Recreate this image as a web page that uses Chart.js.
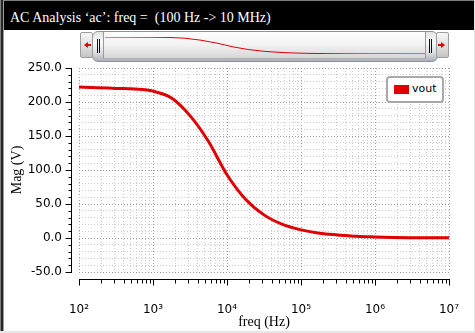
<!DOCTYPE html>
<html lang="en">
<head>
    <meta charset="UTF-8">
    <title>AC Analysis</title>
    <script src="https://cdn.jsdelivr.net/npm/chart.js"></script>
    <style>
        html, body {
            margin: 0;
            padding: 0;
            width: 475px;
            height: 333px;
            overflow: hidden;
            background: #ffffff;
            position: relative;
        }
        .frame-left {
            position: absolute; left: 0; top: 0; width: 4px; height: 333px;
            background: linear-gradient(to right, #808080 0, #808080 1px, #262626 1px, #262626 3px, #9a9a9a 3px);
        }
        .frame-right {
            position: absolute; right: 0; top: 0; width: 1px; height: 333px; background: #e2e2e2;
        }
        .frame-bottom {
            position: absolute; left: 0; bottom: 0; width: 475px; height: 2px; background: #e6e6e6;
        }
        #titlebar {
            position: absolute; left: 4px; top: 0; width: 470px; height: 30px;
            background: #000; border-top: 1px solid #7f7f7f; box-sizing: border-box;
            color: #fff; font-family: "Liberation Serif", serif; font-size: 14px;
            line-height: 14px; padding: 10px 0 0 6px; white-space: nowrap;
        }
        #mainChart {
            position: absolute; left: 0; top: 0;
        }
        /* scroll bar above the plot */
        .sb-btn {
            position: absolute; top: 32px; width: 11px; height: 24px;
            border: 1px solid #9c9c9c; border-radius: 2px;
            background: linear-gradient(to bottom, #f6f6f6, #dcdcdc 60%, #c4c4c4);
        }
        .sb-btn.left { left: 80px; }
        .sb-btn.right { left: 436px; }
        .arrow {
            position: absolute; top: 9px; width: 0; height: 0;
            border-top: 3px solid transparent; border-bottom: 3px solid transparent;
        }
        .sb-btn.left .arrow { left: 3px; border-right: 4px solid #e00000; }
        .sb-btn.right .arrow { left: 4px; border-left: 4px solid #e00000; }
        .arrow-stem { position: absolute; top: 11px; width: 3px; height: 2px; background: #e00000; }
        .sb-btn.left .arrow-stem { left: 7px; }
        .sb-btn.right .arrow-stem { left: 1px; }
        .sb-thumb {
            position: absolute; left: 92px; top: 31px; width: 344px; height: 29px;
            border: 1px solid #8c939c; border-radius: 6px;
            background: linear-gradient(to bottom, #e4e4e4, #fafafa 35%, #d8dade 75%, #a9b0ba);
        }
        .sb-panel {
            position: absolute; left: 103px; top: 32px; width: 321px; height: 26px;
            border-left: 1px solid #9a9a9a; border-right: 1px solid #9a9a9a;
            border-bottom: 1px solid #b0b0b0;
            background: linear-gradient(to bottom, #ffffff, #f2f2f2 50%, #d6d6d6);
        }
        .grip {
            position: absolute; top: 39px; width: 1px; height: 14px; background: #111;
        }
        #thumbChart {
            position: absolute; left: 105px; top: 35px;
        }
        #legend {
            position: absolute; left: 386px; top: 76px; width: 54px; height: 23px;
            border: 2px solid #a9a9a9; border-radius: 4px; background: #fff;
        }
        #legend .swatch {
            position: absolute; left: 6px; top: 7px; width: 15px; height: 9px;
        }
        #legend .name {
            position: absolute; left: 24px; top: 3px;
            font-family: "DejaVu Sans", sans-serif; font-size: 11px; line-height: 16px; color: #000;
        }
    </style>
</head>
<body>
    <div class="frame-left"></div>
    <div class="frame-right"></div>
    <div class="frame-bottom"></div>

    <canvas id="mainChart" width="475" height="333"></canvas>

    <div class="sb-thumb"></div>
    <div class="sb-panel"></div>
    <div class="grip" style="left:97px"></div>
    <div class="grip" style="left:99px"></div>
    <div class="grip" style="left:429px"></div>
    <div class="grip" style="left:431px"></div>
    <div class="sb-btn left"><div class="arrow"></div><div class="arrow-stem"></div></div>
    <div class="sb-btn right"><div class="arrow"></div><div class="arrow-stem"></div></div>
    <canvas id="thumbChart" width="320" height="21"></canvas>

    <div id="legend"><div class="swatch"></div><div class="name"></div></div>

    <div id="titlebar">AC Analysis &lsquo;ac&rsquo;: freq = &nbsp;(100 Hz -&gt; 10 MHz)</div>

    <script>
        // frequency sweep points (Hz) and read-off magnitude of vout (V)
        const freqs = [100, 178, 316, 562, 1000, 1778, 3162, 5623, 10000, 17783, 31623,
                       56234, 100000, 177828, 316228, 562341, 1000000, 1778279, 3162278, 5623413, 10000000];
        const vout  = [222, 221, 220, 219, 216, 206, 180, 142, 93, 57, 34,
                       20, 12, 7, 4.5, 2.5, 1.5, 0.8, 0.5, 0.3, 0.2];

        const seriesName = 'vout';
        const seriesColor = '#e00000';

        // axis ranges / tick labels
        const yMin = -50, yMax = 250, yStep = 10, yLabelStep = 50;
        const xDecades = [2, 3, 4, 5, 6, 7];
        const supDigits = ['\u2070', '\u00b9', '\u00b2', '\u00b3', '\u2074', '\u2075', '\u2076', '\u2077', '\u2078', '\u2079'];

        const points = freqs.map((f, i) => ({ x: f, y: vout[i] }));

        function isDecade(v) {
            const e = Math.log10(v);
            return Math.abs(e - Math.round(e)) < 1e-9;
        }

        // all 1..9 x 10^n ticks between the first and last decade
        function logTicks() {
            const ticks = [];
            for (let i = 0; i < xDecades.length; i++) {
                const base = Math.pow(10, xDecades[i]);
                if (i === xDecades.length - 1) { ticks.push({ value: base }); break; }
                for (let m = 1; m <= 9; m++) ticks.push({ value: m * base });
            }
            return ticks;
        }

        // axis lines sit a few pixels outside the grid, like the original plot
        const offsetAxes = {
            id: 'offsetAxes',
            afterDraw(chart) {
                const { ctx, chartArea } = chart;
                const x = chart.scales.x, y = chart.scales.y;
                ctx.save();
                ctx.strokeStyle = '#000';
                ctx.lineWidth = 1;
                ctx.beginPath();
                const ax = chartArea.left - 8 + 0.5;
                ctx.moveTo(ax, Math.round(y.getPixelForValue(yMax)));
                ctx.lineTo(ax, Math.round(y.getPixelForValue(yMin)) + 1);
                y.ticks.forEach(t => {
                    const py = Math.round(y.getPixelForValue(t.value)) + 0.5;
                    const len = t.value % yLabelStep === 0 ? 6 : 3;
                    ctx.moveTo(ax, py);
                    ctx.lineTo(ax - len, py);
                });
                const ay = chartArea.bottom + 7 + 0.5;
                ctx.moveTo(Math.round(x.getPixelForValue(x.min)), ay);
                ctx.lineTo(Math.round(x.getPixelForValue(x.max)) + 1, ay);
                x.ticks.forEach(t => {
                    const px = Math.round(x.getPixelForValue(t.value)) + 0.5;
                    const len = isDecade(t.value) ? 6 : 4;
                    ctx.moveTo(px, ay);
                    ctx.lineTo(px, ay + len);
                });
                ctx.stroke();
                ctx.restore();
            }
        };

        const tickFont = { family: 'DejaVu Sans', size: 12 };
        const titleFont = { family: 'Liberation Serif', size: 14 };

        new Chart(document.getElementById('mainChart'), {
            type: 'line',
            data: {
                datasets: [{
                    label: seriesName,
                    data: points,
                    borderColor: seriesColor,
                    backgroundColor: seriesColor,
                    borderWidth: 3,
                    pointRadius: 0,
                    cubicInterpolationMode: 'monotone',
                    fill: false
                }]
            },
            options: {
                responsive: false,
                animation: false,
                devicePixelRatio: 1,
                layout: { padding: { top: 68, right: 26, left: 0, bottom: 0 } },
                plugins: { legend: { display: false }, tooltip: { enabled: false } },
                scales: {
                    x: {
                        type: 'logarithmic',
                        min: Math.pow(10, xDecades[0]),
                        max: Math.pow(10, xDecades[xDecades.length - 1]),
                        afterBuildTicks: (scale) => { scale.ticks = logTicks(); },
                        afterFit: (scale) => { scale.height = 61; },
                        grid: {
                            // invisible tick marks only push the labels down
                            drawTicks: true,
                            tickLength: 31,
                            tickWidth: 0,
                            color: (c) => isDecade(c.tick.value) ? '#9c9c9c' : '#cdcdcd'
                        },
                        border: { display: false, dash: [1, 2] },
                        ticks: {
                            autoSkip: false,
                            maxRotation: 0,
                            padding: 0,
                            color: '#000',
                            font: tickFont,
                            callback: (v) => {
                                if (!isDecade(v)) return '';
                                const e = Math.round(Math.log10(v));
                                return '10' + String(e).split('').map(d => supDigits[+d]).join('');
                            }
                        },
                        title: {
                            display: true,
                            text: 'freq (Hz)',
                            color: '#000',
                            font: titleFont,
                            padding: { top: 0, bottom: 2 }
                        }
                    },
                    y: {
                        min: yMin,
                        max: yMax,
                        afterFit: (scale) => { scale.width = 79; },
                        grid: {
                            drawTicks: true,
                            tickLength: 17,
                            tickWidth: 0,
                            color: (c) => c.tick.value % yLabelStep === 0 ? '#9c9c9c' : '#cdcdcd'
                        },
                        border: { display: false, dash: [1, 2] },
                        ticks: {
                            stepSize: yStep,
                            autoSkip: false,
                            padding: 0,
                            color: '#000',
                            font: tickFont,
                            callback: (v) => v % yLabelStep === 0 ? v.toFixed(1) : ''
                        },
                        title: {
                            display: true,
                            text: 'Mag (V)',
                            color: '#000',
                            font: titleFont,
                            padding: { top: 9, bottom: 0 }
                        }
                    }
                }
            },
            plugins: [offsetAxes]
        });

        // small overview curve inside the scroll bar
        new Chart(document.getElementById('thumbChart'), {
            type: 'line',
            data: {
                datasets: [{
                    data: points,
                    borderColor: seriesColor,
                    borderWidth: 1,
                    pointRadius: 0,
                    fill: false
                }]
            },
            options: {
                responsive: false,
                animation: false,
                devicePixelRatio: 1,
                layout: { padding: { top: 2, bottom: 2, left: 0, right: 0 } },
                plugins: { legend: { display: false }, tooltip: { enabled: false } },
                scales: {
                    x: { type: 'logarithmic', display: false,
                         min: Math.pow(10, xDecades[0]), max: Math.pow(10, xDecades[xDecades.length - 1]) },
                    y: { display: false, min: 0, max: vout[0] }
                }
            }
        });

        // legend box
        document.querySelector('#legend .swatch').style.background = seriesColor;
        document.querySelector('#legend .name').textContent = seriesName;
    </script>
</body>
</html>
